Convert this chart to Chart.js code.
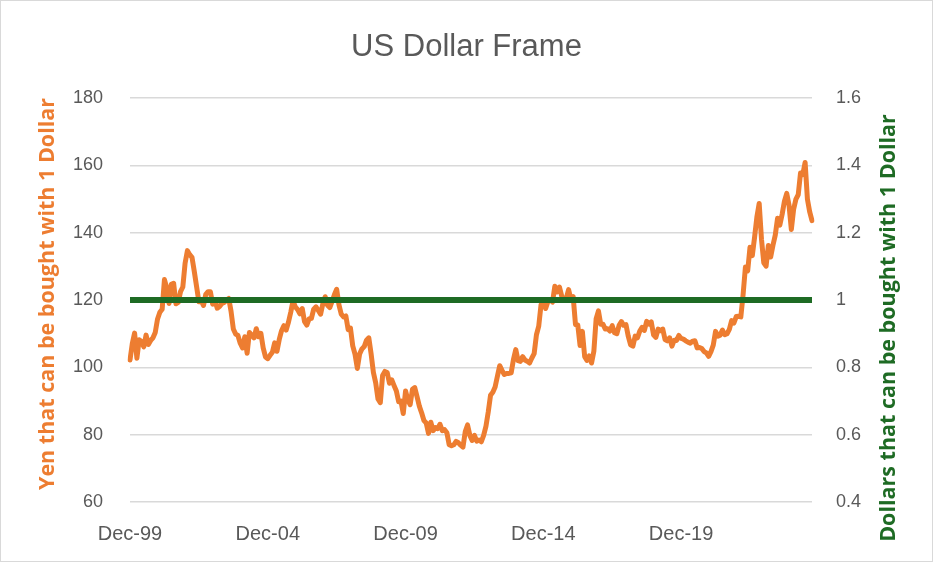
<!DOCTYPE html>
<html>
<head>
<meta charset="utf-8">
<script src="https://cdn.jsdelivr.net/npm/chart.js@4.4.1/dist/chart.umd.min.js"></script>
<style>
  html, body { margin: 0; padding: 0; background: #fff; }
  #wrap { width: 933px; height: 562px; position: relative; }
</style>
</head>
<body>
<div id="wrap"><canvas id="chart"></canvas></div>
<script>
// monthly USD/JPY, Dec-99 .. Sep-24
const yenDec1999 = [102.2];
const yen2000to2004 = [
  107.1, 110.2, 102.7, 108.2, 107.7, 106.1, 109.6, 106.8, 108.0, 108.8, 110.4, 114.4,
  116.4, 117.3, 126.1, 123.6, 119.0, 124.7, 125.0, 118.9, 119.3, 122.5, 123.9, 131.0,
  134.7, 133.5, 132.7, 128.5, 124.0, 119.5, 119.9, 118.4, 121.7, 122.5, 122.5, 118.8,
  119.9, 117.6, 118.1, 119.0, 119.3, 120.0, 120.5, 116.7, 111.4, 109.9, 109.5, 107.2,
  105.8, 109.1, 104.2, 110.4, 109.6, 108.8, 111.5, 109.1, 110.1, 105.8, 103.1, 102.6
];
const yen2005to2009 = [
  103.6, 104.5, 107.3, 104.8, 108.3, 110.9, 112.4, 111.1, 113.4, 116.4, 119.8, 118.0,
  117.2, 115.9, 117.5, 113.6, 112.6, 114.4, 114.6, 117.3, 118.0, 116.9, 115.8, 119.0,
  121.0, 118.5, 117.8, 119.6, 121.6, 123.2, 118.6, 115.8, 115.0, 115.3, 111.2, 111.7,
  106.4, 103.9, 99.7, 104.0, 105.5, 106.2, 108.1, 108.8, 104.0, 98.5, 95.4, 90.6,
  89.5, 97.6, 98.8, 98.5, 95.3, 96.3, 94.6, 93.0, 89.8, 90.0, 86.3, 93.0
];
const yen2010to2014 = [
  90.3, 88.9, 93.5, 94.0, 91.3, 88.5, 86.5, 84.2, 83.5, 80.4, 83.7, 81.2,
  82.1, 81.8, 83.1, 81.2, 81.5, 80.6, 77.0, 76.7, 77.0, 78.0, 77.6, 76.9,
  76.3, 80.9, 82.9, 79.8, 78.3, 79.8, 78.1, 78.4, 77.9, 79.8, 82.5, 86.7,
  91.7, 92.6, 94.2, 97.4, 100.5, 99.1, 97.9, 98.2, 98.2, 98.4, 102.4, 105.3,
  102.0, 101.8, 103.2, 102.2, 101.8, 101.3, 102.8, 104.1, 109.7, 112.3, 118.6, 119.8
];
const yen2015to2019 = [
  117.5, 119.6, 120.1, 119.4, 124.1, 122.4, 123.9, 121.2, 119.9, 120.6, 123.1, 120.2,
  121.0, 112.7, 112.6, 106.5, 110.7, 103.2, 102.1, 103.4, 101.3, 104.8, 114.5, 116.8,
  112.8, 112.8, 111.4, 111.5, 110.8, 112.4, 110.3, 110.0, 112.5, 113.6, 112.5, 112.7,
  109.2, 106.7, 106.3, 109.3, 108.8, 110.8, 111.9, 111.0, 113.7, 112.9, 113.5, 109.7,
  108.9, 111.4, 110.9, 111.4, 108.3, 107.9, 108.8, 106.3, 108.1, 108.0, 109.5, 108.6
];
const yen2020to2024 = [
  108.4, 107.9, 107.5, 107.2, 107.8, 107.9, 105.8, 105.9, 105.6, 104.7, 104.3, 103.3,
  104.7, 106.6, 110.7, 109.3, 109.6, 111.1, 109.7, 110.0, 111.3, 113.9, 113.2, 115.1,
  115.2, 115.0, 121.7, 129.8, 128.7, 135.7, 133.2, 138.7, 144.7, 148.7, 138.1, 131.1,
  130.1, 136.2, 132.8, 136.3, 139.3, 144.3, 142.3, 145.5, 149.4, 151.7, 148.2, 141.0,
  147.0, 150.0, 151.3, 157.8, 157.3, 160.9, 150.0, 146.2, 143.6
];
const dollarsPerDollar = 1;

const monthNames = ['Jan', 'Feb', 'Mar', 'Apr', 'May', 'Jun', 'Jul', 'Aug', 'Sep', 'Oct', 'Nov', 'Dec'];
const labelEvery = 60; // Dec-99, Dec-04, ...

const chartTitle = 'US Dollar Frame';
const leftTitle = 'Yen that can be bought with 1 Dollar';
const rightTitle = 'Dollars that can be bought with 1 Dollar';

const yenPerDollar = [].concat(yenDec1999, yen2000to2004, yen2005to2009, yen2010to2014, yen2015to2019, yen2020to2024);

// month labels starting Dec 1999
const months = [];
for (let i = 0; i < yenPerDollar.length; i++) {
  const m = (11 + i) % 12;
  const y = 1999 + Math.floor((11 + i) / 12);
  months.push(monthNames[m] + '-' + String(y % 100).padStart(2, '0'));
}

const orange = '#ED7D31';
const green = '#1E6B24';
const grey = '#595959';

// rotated axis titles, both reading bottom to top like the original
const axisTitles = {
  id: 'axisTitles',
  afterDraw(chart) {
    const ctx = chart.ctx;
    ctx.save();
    ctx.font = 'bold 21.5px "Open Sans"';
    ctx.textAlign = 'center';
    ctx.textBaseline = 'middle';

    ctx.save();
    ctx.translate(48, 294);
    ctx.rotate(-Math.PI / 2);
    ctx.fillStyle = orange;
    ctx.fillText(leftTitle, 0, 0);
    ctx.restore();

    ctx.save();
    ctx.translate(889, 328);
    ctx.rotate(-Math.PI / 2);
    ctx.fillStyle = green;
    ctx.fillText(rightTitle, 0, 0);
    ctx.restore();

    // thin frame round the chart
    ctx.strokeStyle = '#d9d9d9';
    ctx.lineWidth = 1;
    ctx.strokeRect(0.5, 0.5, chart.width - 1, chart.height - 1);
    ctx.restore();
  }
};

new Chart(document.getElementById('chart'), {
  type: 'line',
  data: {
    labels: months,
    datasets: [
      {
        label: rightTitle,
        data: months.map(() => dollarsPerDollar),
        yAxisID: 'y1',
        borderColor: green,
        borderWidth: 6,
        pointRadius: 0,
        tension: 0
      },
      {
        label: leftTitle,
        data: yenPerDollar,
        yAxisID: 'y',
        borderColor: orange,
        borderWidth: 5,
        borderJoinStyle: 'round',
        borderCapStyle: 'round',
        pointRadius: 0,
        tension: 0
      }
    ]
  },
  options: {
    responsive: true,
    maintainAspectRatio: false,
    animation: false,
    layout: { padding: 0 },
    plugins: {
      legend: { display: false },
      tooltip: { enabled: false },
      title: {
        display: true,
        text: chartTitle,
        color: grey,
        font: { family: 'Liberation Sans', size: 31, weight: 'normal', lineHeight: 1.2 },
        padding: { top: 29, bottom: 32 }
      }
    },
    scales: {
      x: {
        type: 'category',
        offset: false,
        grid: { display: false },
        border: { display: false },
        ticks: {
          autoSkip: false,
          maxRotation: 0,
          minRotation: 0,
          padding: 12,
          color: grey,
          font: { family: 'Liberation Sans', size: 20 },
          callback: function (v, i) { return i % labelEvery === 0 ? this.getLabelForValue(v) : null; }
        },
        afterFit: s => { s.height = 60; }
      },
      y: {
        position: 'left',
        min: 60,
        max: 180,
        grid: { color: '#d9d9d9', lineWidth: 1.5, drawTicks: false },
        border: { display: false },
        ticks: {
          stepSize: 20,
          padding: 27,
          color: grey,
          font: { family: 'Liberation Sans', size: 18 }
        },
        afterFit: s => { s.width = 130; }
      },
      y1: {
        position: 'right',
        min: 0.4,
        max: 1.6,
        grid: { display: false, drawTicks: false },
        border: { display: false },
        ticks: {
          stepSize: 0.2,
          padding: 24,
          color: grey,
          font: { family: 'Liberation Sans', size: 18 },
          callback: v => String(+v.toFixed(1))
        },
        afterFit: s => { s.width = 121; }
      }
    }
  },
  plugins: [axisTitles]
});
</script>
</body>
</html>
